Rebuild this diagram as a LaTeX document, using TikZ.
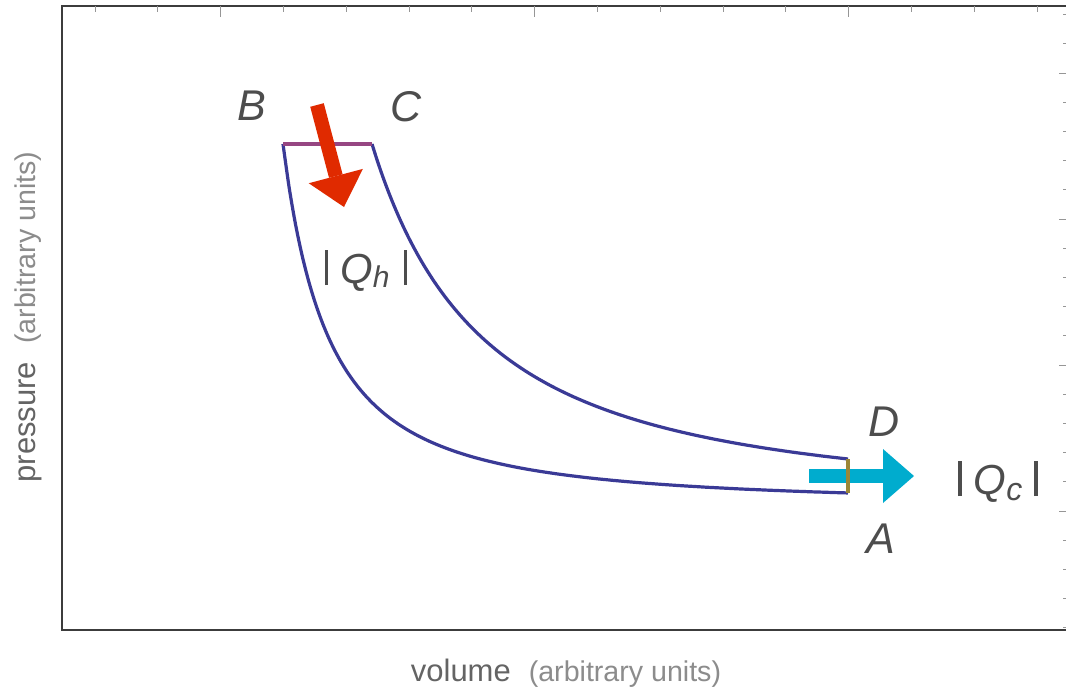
\documentclass[tikz,border=0pt]{standalone}
\usepackage{fontspec}
\setmainfont{Liberation Sans}
\usetikzlibrary{arrows.meta}
\definecolor{curvec}{RGB}{58,58,150}
\definecolor{isobarc}{RGB}{150,70,130}
\definecolor{isochorc}{RGB}{155,135,55}
\definecolor{hotc}{RGB}{224,42,0}
\definecolor{coldc}{RGB}{0,172,206}
\definecolor{lblc}{RGB}{77,77,77}
\definecolor{axlc}{RGB}{100,100,100}
\definecolor{axlltc}{RGB}{140,140,140}
\definecolor{frmc}{RGB}{60,60,60}
\definecolor{tckc}{RGB}{150,150,150}
\tikzset{
  framel/.style={frmc,line width=1.4pt},
  tickl/.style={tckc,line width=1pt},
  cyc/.style={curvec,line width=3.2pt,line join=round},
  isobarl/.style={isobarc,line width=3.4pt},
  isochorl/.style={isochorc,line width=3.4pt},
  heatin/.style={hotc,line width=14pt,-{Triangle[width=56pt,length=32pt,line width=0pt]}},
  heatout/.style={coldc,line width=14pt,-{Triangle[width=54pt,length=31pt,line width=0pt]}},
  ptlabel/.style={lblc,font=\fontsize{43}{43}\selectfont\itshape,inner sep=0pt,anchor=base},
  qlabel/.style={lblc,font=\fontsize{42}{42}\selectfont,inner sep=0pt,anchor=base},
}
\newcommand{\absbar}{\rule[-2pt]{3.2pt}{35pt}}
\begin{document}
\begin{tikzpicture}[x=1pt,y=-1pt]
\useasboundingbox[fill=white] (0,0) rectangle (1066,689);
% frame
\coordinate (fTL) at (62,6);
\coordinate (fTR) at (1066,6);
\coordinate (fBL) at (62,630);
\coordinate (fBR) at (1066,630);
\draw[framel] (fTR) -- (fTL) -- (fBL) -- (fBR);
% top ticks
\foreach \tx in {95,157.8,283.4,346.2,409,471.8,597.4,660.2,723,785.8,911.4,974.2,1037}
  \draw[tickl] (\tx,6) -- (\tx,12);
\foreach \tx in {220.6,534.6,848.6}
  \draw[tickl] (\tx,6) -- (\tx,17);
% right ticks
\foreach \ty in {14.6,43.8,102.2,131.4,160.6,189.8,248.2,277.4,306.6,335.8,394.2,423.4,452.6,481.8,540.2,569.4,598.6,627.8}
  \draw[tickl] (1066,\ty) -- (1063,\ty);
\foreach \ty in {73,219,365,511}
  \draw[tickl] (1066,\ty) -- (1059,\ty);
% cycle vertices
\coordinate (B) at (283,144);
\coordinate (C) at (372,144);
\coordinate (D) at (848,459);
\coordinate (A) at (848,493);
% curves
\draw[cyc] plot[smooth,domain=283:848,samples=90] (\x,{505-361*exp(1.55*(ln(142/(\x-212))-0.693147))});
\draw[cyc] plot[smooth,domain=372:848,samples=90] (\x,{505-361*exp(1.55*(ln(342.8/(\x-200.6))-0.693147))});
\draw[isobarl] (B) -- (C);
% heat arrows
\coordinate (hs) at (317,105);
\coordinate (he) at (344,207);
\draw[heatin] (hs) -- (he);
\coordinate (cs) at (809,476);
\coordinate (ce) at (914,476);
\draw[heatout] (cs) -- (ce);
\draw[isochorl] (D) -- (A);
% labels
\node[ptlabel] (lB) at (252,120) {B};
\node[ptlabel] (lC) at (406,121) {C};
\node[ptlabel] (lD) at (884,436) {D};
\node[ptlabel] (lA) at (881,553) {A};
\node[qlabel] (lQh) at (366,283) {\absbar\hspace{12pt}\textit{Q}\raisebox{-4pt}{\fontsize{30}{30}\selectfont\textit{h}}\hspace{14pt}\absbar};
\node[qlabel] (lQc) at (998,494) {\absbar\hspace{12pt}\textit{Q}\raisebox{-6pt}{\fontsize{32}{32}\selectfont\textit{c}}\hspace{12pt}\absbar};
% axis labels
\node[inner sep=0pt,anchor=base] (xlab) at (566,681)
  {\color{axlc}\fontsize{31}{31}\selectfont volume\hspace{18pt}\color{axlltc}\fontsize{28.6}{28.6}\selectfont(arbitrary units)};
\node[inner sep=0pt,anchor=base,rotate=90] (ylab) at (35,317)
  {\color{axlc}\fontsize{31}{31}\selectfont pressure\hspace{18pt}\color{axlltc}\fontsize{28.6}{28.6}\selectfont(arbitrary units)};
\end{tikzpicture}
\end{document}
